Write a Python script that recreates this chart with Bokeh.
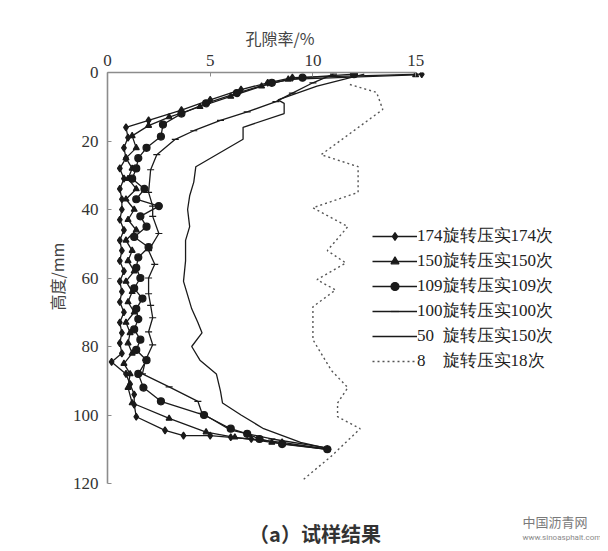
from bokeh.plotting import figure
from bokeh.models import Range1d, FixedTicker, Legend, LegendItem, Label, Title
from bokeh.embed import file_html
from bokeh.resources import INLINE

# ---- data (porosity % vs height mm) ----
d174 = [0.5, 1.5, 3, 5, 8, 11, 14, 16, 19, 22, 25, 28, 31, 34, 37, 40, 43, 46, 49, 52, 55, 58, 61,
        64, 67, 70, 73, 76, 79, 82, 84.5, 88, 91, 94, 97, 100.5, 104.5, 106, 106, 106.5, 107, 108, 110]
v174 = [15.3, 9.0, 7.8, 6.5, 5.0, 3.6, 2.0, 0.9, 1.0, 0.8, 0.9, 0.6, 0.8, 0.6, 0.7, 0.7, 0.6, 0.8, 0.6,
        0.7, 0.6, 0.8, 0.6, 0.7, 0.6, 0.8, 0.6, 0.7, 0.6, 0.7, 0.2, 0.9, 1.1, 1.3, 1.3, 1.4, 2.8, 3.7,
        5.0, 6.0, 7.0, 8.5, 10.7]

d150 = [0.7, 2, 4, 7, 10, 13, 15.5, 18.5, 22, 25, 28, 31, 34, 37, 40, 43, 46, 49, 52, 55, 58, 61, 64,
        67, 70, 73, 76, 79, 82, 85, 88, 92, 96.5, 101, 105, 106.5, 108, 110]
v150 = [15.0, 8.8, 7.5, 6.0, 4.5, 3.0, 2.0, 1.2, 1.4, 0.9, 1.2, 1.0, 1.4, 0.9, 1.3, 1.0, 1.4, 0.9, 1.2,
        1.0, 1.3, 0.9, 1.2, 1.0, 1.3, 0.9, 1.1, 1.0, 1.2, 0.8, 1.1, 1.0, 1.2, 3.0, 4.8, 6.2, 8.0, 10.7]

d109 = [0.5, 1.5, 3, 6, 9, 12, 15.2, 18.7, 22, 25, 28, 31, 34, 37, 39, 42, 45, 48, 51, 54, 57, 60, 63,
        66, 69, 72, 75, 78, 81, 84, 88, 92, 96, 100, 104, 105.5, 107, 108.5, 110]
v109 = [12.0, 9.5, 8.0, 6.3, 4.8, 3.6, 2.7, 2.6, 1.9, 1.5, 1.4, 1.2, 1.8, 1.4, 2.5, 1.6, 1.9, 1.3, 2.0,
        1.5, 1.4, 1.6, 1.3, 1.7, 1.4, 1.5, 1.3, 1.6, 1.4, 1.9, 1.5, 1.75, 2.6, 4.7, 6.0, 6.8, 7.4, 8.5, 10.7]

d100 = [0.5, 3, 6, 8.5, 11.5, 14, 17, 19.5, 24, 28.4, 35, 39, 42, 47, 52, 56, 60, 64.6, 68, 71.6, 75.7,
        79.5, 84, 88, 91.8, 96, 99.5, 104.4, 107, 109.6]
v100 = [11.0, 10.0, 9.0, 8.2, 6.8, 5.5, 4.2, 3.3, 2.4, 2.1, 2.0, 2.2, 2.2, 2.5, 2.0, 2.3, 2.0, 2.0, 2.1,
        2.2, 2.0, 2.2, 1.85, 1.7, 3.0, 4.4, 4.6, 6.0, 8.0, 10.7]

d50 = [0.5, 4, 8, 9, 12, 16, 19.5, 27.5, 32, 36, 40, 45, 49, 55, 61, 65, 69, 73, 76, 80, 84, 88, 93,
       96.5, 100, 104, 108, 110]
v50 = [12.5, 10.2, 8.3, 8.6, 8.6, 6.6, 6.6, 4.3, 4.2, 4.0, 3.9, 4.0, 3.8, 3.8, 3.7, 3.9, 4.1, 4.4, 4.6,
       4.1, 4.5, 5.3, 5.5, 5.6, 6.5, 7.6, 9.4, 10.9]

d8 = [3.5, 5.8, 10.8, 24, 27.5, 35, 39.5, 45, 52, 55.6, 60.5, 63.5, 68.4, 78, 87, 92, 96.5, 100.5, 104,
      112, 119]
v8 = [11.8, 13.1, 13.4, 10.4, 12.2, 12.2, 10.0, 11.7, 10.7, 11.6, 10.2, 11.1, 10.0, 10.0, 10.9, 11.7,
      11.2, 11.2, 12.3, 10.9, 9.5]

labels = ["174旋转压实174次", "150旋转压实150次", "109旋转压实109次", "100旋转压实100次",
          "50\u00a0\u00a0旋转压实150次", "8\u00a0\u00a0\u00a0\u00a0旋转压实18次"]
x_ticks = [0, 5, 10, 15]
y_ticks = [0, 20, 40, 60, 80, 100, 120]

C = "#1a1a1a"
SERIF = "Liberation Serif"
CJK = "Noto Sans CJK SC"

p = figure(width=600, height=551, output_backend="svg", toolbar_location=None,
           x_range=Range1d(0, 24.0), y_range=Range1d(139.85, 0), x_axis_location="above",
           min_border_left=107, min_border_right=0, min_border_top=72, min_border_bottom=0)
p.outline_line_color = None
p.xgrid.visible = False
p.ygrid.visible = False
p.background_fill_color = "white"

for ax in (p.xaxis[0], p.yaxis[0]):
    ax.axis_line_color = "#8c8c8c"
    ax.axis_line_width = 1.6
    ax.major_tick_line_color = "#8c8c8c"
    ax.major_tick_in = 4
    ax.major_tick_out = 0
    ax.minor_tick_line_color = None
    ax.major_label_text_font = SERIF
    ax.major_label_text_font_size = "17px"
    ax.major_label_text_color = "#333333"

p.xaxis[0].ticker = FixedTicker(ticks=x_ticks)
p.xaxis[0].bounds = (0, 15)
p.xaxis[0].major_label_standoff = 7
p.yaxis[0].ticker = FixedTicker(ticks=y_ticks)
p.yaxis[0].bounds = (0, 120)
p.yaxis[0].major_label_standoff = 9

# axis titles placed over the 0-15 / 0-120 spans
p.title.text = "孔隙率/%"
p.title.align = "left"
p.title.offset = 138
p.title.text_font = CJK
p.title.text_font_style = "normal"
p.title.text_font_size = "16px"
p.title.text_color = "#444444"
p.title.standoff = 4

p.add_layout(Title(text="高度/mm", align="left", offset=241, text_font=CJK, text_font_style="normal",
                   text_font_size="16px", text_color="#444444", standoff=2), "left")

items = []
specs = [
    (d174, v174, "diamond", 7, None),
    (d150, v150, "triangle", 6, None),
    (d109, v109, "circle", 7, None),
    (d100, v100, "dash", 7, None),
    (d50, v50, None, 0, None),
    (d8, v8, None, 0, "2 3"),
]
for (d, v, mk, sz, dash), lab in zip(specs, labels):
    rs = []
    if dash:
        rs.append(p.line(v, d, line_color="#555555", line_width=1.4, line_dash=dash))
    else:
        rs.append(p.line(v, d, line_color=C, line_width=1.3))
    if mk:
        rs.append(p.scatter(v, d, marker=mk, size=sz, fill_color=C, line_color=C, line_width=1.2))
    items.append(LegendItem(label=lab, renderers=rs))

legend = Legend(items=items, location=(265, 179), padding=0, margin=0, spacing=2,
                label_height=20, glyph_height=20, glyph_width=45, label_standoff=0,
                border_line_color=None, background_fill_alpha=0,
                label_text_font=SERIF, label_text_font_size="17px", label_text_color="#222222")
p.add_layout(legend)

p.add_layout(Label(x=10.1, y=134.6, text="（a）试样结果", text_align="center", text_baseline="middle",
                   text_font=CJK, text_font_style="bold", text_font_size="20px",
                   text_color="#333333"))
p.add_layout(Label(x=20.2, y=131.0, text="中国沥青网", text_align="left", text_baseline="middle",
                   text_font=CJK, text_font_size="13px", text_color="#7a7a7a"))
p.add_layout(Label(x=20.2, y=135.8, text="www.sinoasphalt.com", text_align="left",
                   text_baseline="middle", text_font="Roboto", text_font_size="8px",
                   text_color="#8a8a8a"))

open("out.html", "w").write(file_html(p, INLINE))
